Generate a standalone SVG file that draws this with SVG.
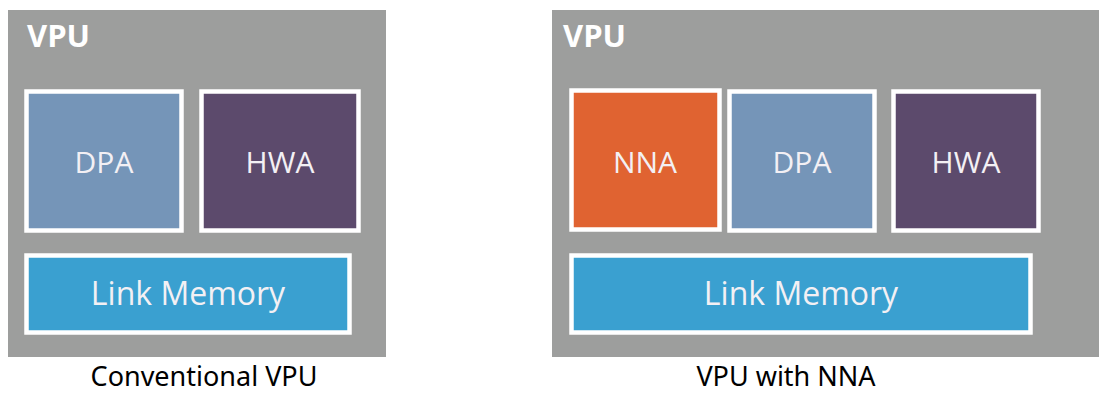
<svg xmlns="http://www.w3.org/2000/svg" width="1099" height="394" viewBox="0 0 1099 394">
<style>
.panel{fill:#9d9e9d}
.box{stroke:#ffffff;stroke-width:4.5}
.dpa{fill:#7595b8}
.hwa{fill:#5c4a6c}
.nna{fill:#e06331}
.mem{fill:#3aa0d0}
.lbl{font-family:"Open Sans","Noto Sans",sans-serif;font-size:30px;fill:#f3f0f4;text-anchor:middle}
.big{font-size:32px}
.title{font-family:"Open Sans","Noto Sans",sans-serif;font-weight:bold;font-size:31px;fill:#ffffff}
.cap{font-family:"Noto Sans","DejaVu Sans",sans-serif;font-size:27px;fill:#000000;text-anchor:middle}
</style>
<rect width="1099" height="394" fill="#ffffff"/>
<g id="conventional">
<rect class="panel" x="8" y="10" width="378" height="347"/>
<text class="title" x="27" y="47">VPU</text>
<g id="dpa1"><rect class="box dpa" x="26.5" y="91.5" width="155" height="139"/><text class="lbl" x="104" y="173">DPA</text></g>
<g id="hwa1"><rect class="box hwa" x="201.5" y="91.5" width="157" height="139"/><text class="lbl" x="280" y="173">HWA</text></g>
<g id="mem1"><rect class="box mem" x="26.5" y="255.5" width="323" height="77"/><text class="lbl big" x="188" y="305">Link Memory</text></g>
<text class="cap" x="204" y="386">Conventional VPU</text>
</g>
<g id="withnna">
<rect class="panel" x="552" y="10" width="547" height="347"/>
<text class="title" x="563" y="47">VPU</text>
<g id="nna2"><rect class="box nna" x="571.5" y="90.5" width="148" height="139"/><text class="lbl" x="645" y="173">NNA</text></g>
<g id="dpa2"><rect class="box dpa" x="729.5" y="91.5" width="145" height="139"/><text class="lbl" x="802" y="173">DPA</text></g>
<g id="hwa2"><rect class="box hwa" x="893.5" y="91.5" width="145" height="139"/><text class="lbl" x="966" y="173">HWA</text></g>
<g id="mem2"><rect class="box mem" x="571.5" y="255.5" width="459" height="77"/><text class="lbl big" x="801" y="305">Link Memory</text></g>
<text class="cap" x="786" y="386">VPU with NNA</text>
</g>
<g id="connectors"></g>
</svg>
